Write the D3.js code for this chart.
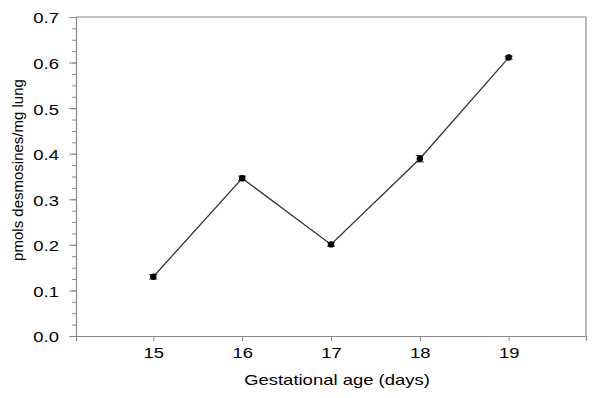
<!DOCTYPE html>
<html>
<head>
<meta charset="utf-8">
<script src="https://cdn.jsdelivr.net/npm/d3@7"></script>
<style>
  body { margin: 0; background: #fff; }
  text { font-family: "Liberation Sans", Arial, sans-serif; fill: #000; }
</style>
</head>
<body>
<svg id="chart"></svg>
<script>
// Data
const days = [15, 16, 17, 18, 19];
const desmosines = [0.130, 0.346, 0.201, 0.389, 0.611];
const errors = [0.005, 0.005, 0.004, 0.007, 0.003];
const yTicks = [0, 0.1, 0.2, 0.3, 0.4, 0.5, 0.6, 0.7];

const width = 600;
const height = 398;

// the source figure is stretched sideways, so horizontal text is widened
const stretch = 1.32;
const fontSize = 14;

const svg = d3.select("#chart")
  .attr("width", width)
  .attr("height", height);

// Plot box edges (pixels)
const boxLeft = 76, boxRight = 586, boxTop = 17, boxBottom = 336;

const x = d3.scaleLinear().domain([14.13, 19.87]).range([boxLeft, boxRight]);
const y = d3.scaleLinear().domain([0, 0.7]).range([boxBottom, boxTop]);

const axisColor = "#8a8a8a";

// Frame (top and right)
svg.append("path")
  .attr("d", `M${boxLeft},${boxTop}H${boxRight}V${boxBottom}`)
  .attr("fill", "none")
  .attr("stroke", axisColor)
  .attr("stroke-width", 1.2);

// Y axis minor ticks
const yMinor = d3.range(0, 0.7001, 0.025);
svg.append("g")
  .attr("transform", `translate(${boxLeft},0)`)
  .call(d3.axisLeft(y).tickValues(yMinor).tickSize(4).tickFormat(""))
  .call(g => g.select(".domain").remove())
  .call(g => g.selectAll("line").attr("stroke", axisColor));

// Y axis major ticks
const yAxis = svg.append("g")
  .attr("transform", `translate(${boxLeft},0)`)
  .call(d3.axisLeft(y).tickValues(yTicks).tickSize(7).tickFormat(d3.format(".1f")));
yAxis.select(".domain").attr("stroke", axisColor).attr("stroke-width", 1.2);
yAxis.selectAll("line").attr("stroke", axisColor);
yAxis.selectAll("text")
  .attr("font-size", fontSize)
  .style("font-family", "Liberation Sans, Arial, sans-serif")
  .attr("x", -17 / stretch)
  .attr("dy", "0.42em")
  .attr("transform", `scale(${stretch},1)`);

// X axis
const xAxis = svg.append("g")
  .attr("transform", `translate(0,${boxBottom})`)
  .call(d3.axisBottom(x).tickValues(days).tickSize(5).tickPadding(7).tickFormat(d3.format("d")));
xAxis.select(".domain").attr("stroke", axisColor).attr("stroke-width", 1.2);
xAxis.selectAll("line").attr("stroke", axisColor);
xAxis.selectAll("text")
  .attr("font-size", fontSize)
  .style("font-family", "Liberation Sans, Arial, sans-serif")
  .attr("transform", `scale(${stretch},1)`);

// Axis titles
svg.append("text")
  .attr("transform", `translate(337,385) scale(${stretch},1)`)
  .attr("text-anchor", "middle")
  .attr("font-size", fontSize)
  .text("Gestational age (days)");

svg.append("text")
  .attr("transform", "translate(23,170) rotate(-90)")
  .attr("text-anchor", "middle")
  .attr("font-size", 15)
  .text("pmols desmosines/mg lung");

const pts = days.map((d, i) => ({ day: d, v: desmosines[i], e: errors[i] }));

// Line
svg.append("path")
  .datum(pts)
  .attr("fill", "none")
  .attr("stroke", "#333")
  .attr("stroke-width", 1.3)
  .attr("d", d3.line().x(d => x(d.day)).y(d => y(d.v)));

// Error bars
const eb = svg.append("g").attr("stroke", "#333").attr("stroke-width", 1);
pts.forEach(d => {
  eb.append("line").attr("x1", x(d.day)).attr("x2", x(d.day)).attr("y1", y(d.v - d.e)).attr("y2", y(d.v + d.e));
  eb.append("line").attr("x1", x(d.day) - 4).attr("x2", x(d.day) + 4).attr("y1", y(d.v + d.e)).attr("y2", y(d.v + d.e));
  eb.append("line").attr("x1", x(d.day) - 4).attr("x2", x(d.day) + 4).attr("y1", y(d.v - d.e)).attr("y2", y(d.v - d.e));
});

// Markers
svg.selectAll(".pt")
  .data(pts)
  .enter()
  .append("circle")
  .attr("class", "pt")
  .attr("cx", d => x(d.day))
  .attr("cy", d => y(d.v))
  .attr("r", 3.2)
  .attr("fill", "#000");
</script>
</body>
</html>
